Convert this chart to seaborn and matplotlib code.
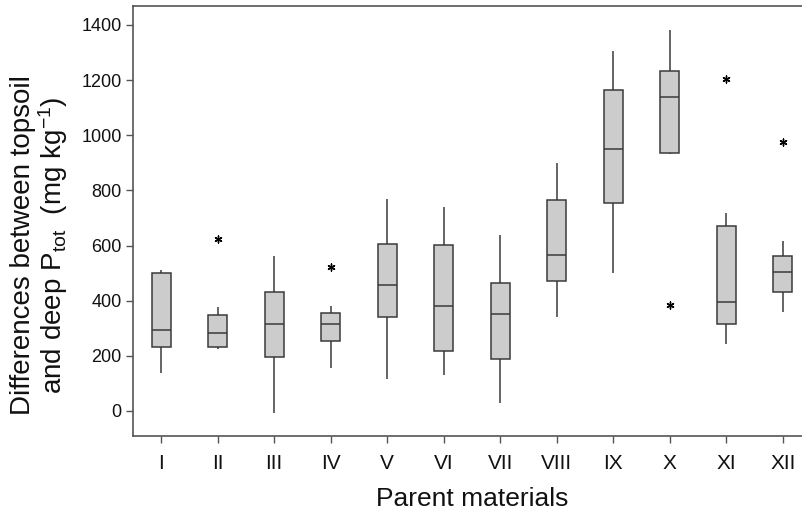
import matplotlib
matplotlib.use("Agg")
import matplotlib.pyplot as plt
import seaborn as sns
import pandas as pd

categories = ["I", "II", "III", "IV", "V", "VI", "VII", "VIII", "IX", "X", "XI", "XII"]
whisker_low = [139, 224, -8, 156, 117, 131, 28, 342, 502, 931, 242, 359]
q1 = [231, 232, 196, 253, 340, 218, 187, 473, 754, 937, 317, 430]
median = [294, 282, 314, 316, 455, 381, 353, 566, 949, 1138, 395, 505]
q3 = [499, 349, 433, 355, 607, 601, 463, 765, 1164, 1233, 670, 562]
whisker_high = [510, 378, 563, 381, 769, 741, 638, 898, 1306, 1382, 719, 617]

outlier_cat = ["II", "IV", "X", "XI", "XII"]
outlier_val = [623, 523, 384, 1203, 977]

rows = []
for i, c in enumerate(categories):
    for v in (whisker_low[i], q1[i], median[i], q3[i], whisker_high[i]):
        rows.append({"material": c, "value": v})
df = pd.DataFrame(rows)
out_df = pd.DataFrame({"material": outlier_cat, "value": outlier_val})

sns.set_style("white")
plt.rcParams["font.family"] = ["Liberation Sans", "DejaVu Sans"]
plt.rcParams["mathtext.fontset"] = "custom"
plt.rcParams["mathtext.rm"] = "Liberation Sans"
plt.rcParams["mathtext.it"] = "Liberation Sans"

fig = plt.figure(figsize=(8.03, 5.11), dpi=100)
ax = fig.add_axes([0.1656, 0.1468, 0.8444, 0.8415])

sns.boxplot(data=df, x="material", y="value", order=categories, whis=(0, 100),
            showfliers=False, showcaps=False, width=0.34, color="#cccccc",
            linecolor="#3a3a3a", linewidth=1.1, saturation=1, ax=ax)
sns.stripplot(data=out_df, x="material", y="value", order=categories, jitter=False,
              marker=(6, 2, 0), s=5, color="black", linewidth=1.0,
              edgecolor="black", ax=ax)

ax.set_xlim(-0.5, 11.5)
ax.set_ylim(-91, 1469)
ax.set_yticks(range(0, 1401, 200))

for side in ("left", "top", "bottom", "right"):
    ax.spines[side].set_color("#555555")
    ax.spines[side].set_linewidth(1.2)

ax.tick_params(axis="both", direction="out", length=5, width=1, color="#555555",
               left=True, bottom=True)
ax.tick_params(axis="y", labelsize=13, labelcolor="#111111", pad=3)
ax.tick_params(axis="x", labelsize=15, labelcolor="#111111", pad=8)

ax.set_xlabel("Parent materials", fontsize=19, color="#111111", labelpad=10)
ax.set_ylabel("Differences between topsoil\nand deep $\\mathregular{P_{tot}}$  (mg kg$\\mathregular{^{-1}}$)",
              fontsize=20, color="#111111", linespacing=1.0)
ax.yaxis.set_label_coords(-0.093, 0.444)

fig.savefig("out.png", dpi=100)
